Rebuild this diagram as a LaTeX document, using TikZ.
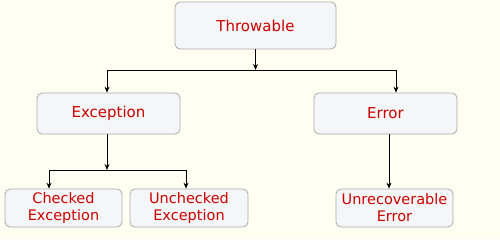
\documentclass[tikz,border=0pt]{standalone}
\usepackage{fontspec}
\setmainfont{DejaVu Sans}
\usetikzlibrary{arrows.meta}
\definecolor{bgcream}{HTML}{FFFFF2}
\definecolor{boxfill}{HTML}{F4F6F7}
\definecolor{boxline}{HTML}{ABABAB}
\definecolor{labelred}{HTML}{CC0000}
\begin{document}
\begin{tikzpicture}[x=1pt,y=-1pt,
  box/.style={draw=boxline,fill=boxfill,rounded corners=5pt,line width=0.8pt,
    text=labelred,font=\fontsize{15}{17}\selectfont,align=center,inner sep=0pt},
  pair/.style={box,font=\fontsize{14.5}{17}\selectfont,minimum height=38pt},
  link/.style={-{Stealth[length=6pt,width=5pt]},line width=0.9pt}]
\fill[bgcream] (0,0) rectangle (500,239);
\useasboundingbox (0,0) rectangle (500,239);
\node[box,minimum width=161pt,minimum height=47pt] (throwable) at (255.5,25.5) {Throwable};
\node[box,minimum width=143pt,minimum height=41pt] (exception) at (108.5,113.5) {Exception};
\node[box,minimum width=143pt,minimum height=41pt] (error) at (385.5,113.5) {Error};
\node[pair,minimum width=117pt] (checked) at (63.5,208) {Checked\\Exception};
\node[pair,minimum width=118pt] (unchecked) at (189,208) {Unchecked\\Exception};
\node[pair,minimum width=117pt] (unrecoverable) at (394.5,208) {Unrecoverable\\Error};
\coordinate (tsplit) at (255.5,70);
\coordinate (esplit) at (107,170);
\draw[link] (throwable) -- (tsplit);
\draw[link] (tsplit) -| ([xshift=-1.5pt]exception.north);
\draw[link] (tsplit) -| ([xshift=10.5pt]error.north);
\draw[link] ([xshift=-1.5pt]exception.south) -- (esplit);
\draw[link] (esplit) -| ([xshift=-14.5pt]checked.north);
\draw[link] (esplit) -| ([xshift=-3pt]unchecked.north);
\draw[link] ([xshift=3.5pt]error.south) -- ([xshift=-5.5pt]unrecoverable.north);
\end{tikzpicture}
\end{document}
